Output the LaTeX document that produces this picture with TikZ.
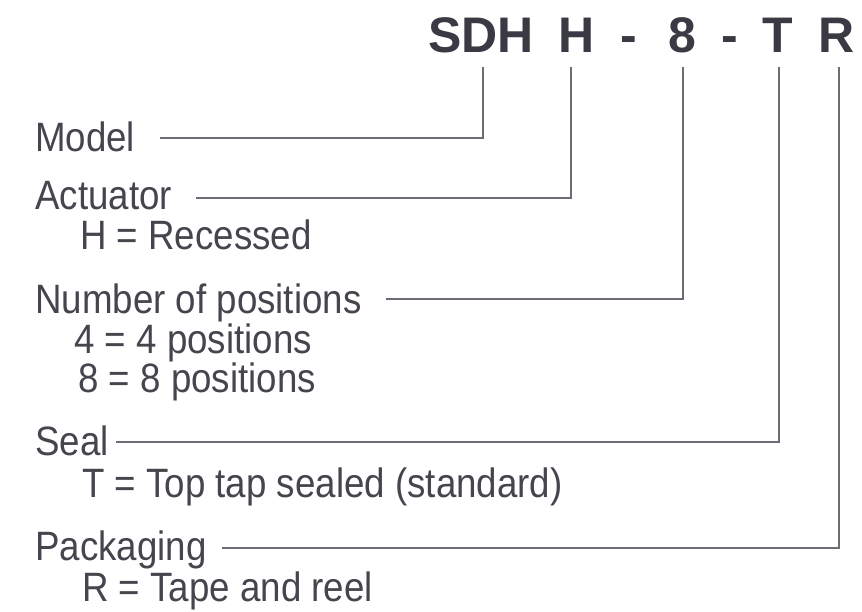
\documentclass[tikz,border=0pt]{standalone}
\usepackage{fontspec}
\setmainfont{Liberation Sans}
\newfontfamily\bodyfont{Liberation Sans}[FakeStretch=0.895]
\newfontfamily\titlefont{Liberation Sans}
\definecolor{txtgray}{HTML}{45454D}
\definecolor{titlegray}{HTML}{3A3A44}
\definecolor{linegray}{HTML}{6C6C74}
\tikzset{
  lbl/.style={anchor=base west, inner sep=0pt, text=txtgray, font=\bodyfont\fontsize{41}{41}\selectfont},
  ttl/.style={anchor=base, inner sep=0pt, text=titlegray, font=\titlefont\bfseries\fontsize{50}{50}\selectfont},
  conn/.style={draw=linegray, line width=2.4pt}
}
\begin{document}
\begin{tikzpicture}[x=1pt,y=-1pt]
\useasboundingbox (0,0) rectangle (862,612);
% title
\node[ttl] (sdh) at (481,53) {SDH};
\node[ttl] (h) at (577,53) {H};
\node[ttl] (d1) at (629,53) {-};
\node[ttl] (e) at (682,53) {8};
\node[ttl] (d2) at (730,53) {-};
\node[ttl] (t) at (778,53) {T};
\node[ttl] (r) at (837,53) {R};
\coordinate (tS) at (483,67);
\coordinate (tH) at (571,67);
\coordinate (tE) at (683,67);
\coordinate (tT) at (779,67);
\coordinate (tR) at (839,67);
% labels
\node[lbl] (model) at (35,152) {Model};
\node[lbl] (act) at (35,210) {Actuator};
\node[lbl] (actH) at (80,250) {H = Recessed};
\node[lbl] (num) at (35,314) {Number of positions};
\node[lbl] (num4) at (74,353) {4 = 4 positions};
\node[lbl] (num8) at (78,392) {8 = 8 positions};
\node[lbl] (seal) at (35,455) {Seal};
\node[lbl] (sealT) at (82,497) {T = Top tap sealed (standard)};
\node[lbl] (pack) at (35,560) {Packaging};
\node[lbl] (packR) at (82,601) {R = Tape and reel};
% connectors
\draw[conn] ([xshift=25pt,yshift=14pt]model.base east) -| (tS);
\draw[conn] ([xshift=24pt,yshift=12pt]act.base east) -| (tH);
\draw[conn] ([xshift=24pt,yshift=15pt]num.base east) -| (tE);
\draw[conn] ([xshift=7pt,yshift=13pt]seal.base east) -| (tT);
\draw[conn] ([xshift=15pt,yshift=12pt]pack.base east) -| (tR);
\end{tikzpicture}
\end{document}
